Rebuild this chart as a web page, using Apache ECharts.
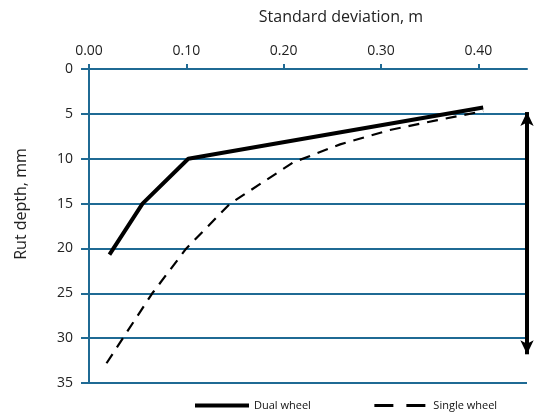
<!DOCTYPE html>
<html>
<head>
<meta charset="utf-8">
<script src="https://cdn.jsdelivr.net/npm/echarts@6/dist/echarts.min.js"></script>
<style>
  html, body { margin: 0; padding: 0; background: #fff; }
  #chart { width: 535px; height: 418px; }
</style>
</head>
<body>
<div id="chart"></div>
<script>
// data: [standard deviation (m), rut depth (mm)]
const dualWheel = [
  [0.021, 20.7],
  [0.055, 15.0],
  [0.102, 10.0],
  [0.405, 4.3]
];
const singleWheel = [
  [0.018, 32.8],
  [0.065, 25.0],
  [0.100, 20.0],
  [0.145, 15.0],
  [0.210, 10.4],
  [0.258, 8.4],
  [0.309, 6.8],
  [0.358, 5.7],
  [0.405, 4.7]
];
// vertical double arrow on the right (rut depth span)
const arrowX = 0.45;
const arrowSpan = [4.8, 31.8];

const blue = '#1f6a94';
const chart = echarts.init(document.getElementById('chart'));

chart.setOption({
  animation: false,
  textStyle: { fontFamily: 'Open Sans' },
  grid: { left: 89, right: 8, top: 69, bottom: 35 },
  legend: {
    left: 188,
    bottom: 2,
    itemWidth: 54,
    itemHeight: 10,
    itemGap: 62,
    itemStyle: { opacity: 0, borderWidth: 0 },
    textStyle: { fontSize: 11, color: '#111' },
    data: [
      { name: 'Dual wheel', lineStyle: { width: 4 } },
      { name: 'Single wheel', lineStyle: { width: 3, type: [19, 13] } }
    ]
  },
  xAxis: {
    type: 'value',
    position: 'top',
    min: 0,
    max: 0.45,
    interval: 0.1,
    name: 'Standard deviation, m',
    nameLocation: 'middle',
    nameGap: 44,
    nameTextStyle: { fontSize: 16, color: '#222', padding: [0, 0, 0, 66] },
    axisLine: { show: true, lineStyle: { color: blue, width: 2 } },
    axisTick: { show: true, length: 5, lineStyle: { color: blue, width: 2 } },
    axisLabel: {
      fontSize: 14,
      color: '#222',
      margin: 11,
      showMaxLabel: false,
      formatter: v => v.toFixed(2)
    },
    splitLine: { show: false }
  },
  yAxis: {
    type: 'value',
    inverse: true,
    min: 0,
    max: 35,
    interval: 5,
    name: 'Rut depth, mm',
    nameLocation: 'middle',
    nameGap: 60,
    nameRotate: 90,
    nameTextStyle: { fontSize: 16, color: '#222', padding: [0, 0, 0, 44] },
    axisLine: { show: true, lineStyle: { color: blue, width: 2 } },
    axisTick: { show: true, length: 8, lineStyle: { color: blue, width: 2 } },
    axisLabel: { fontSize: 14, color: '#222', margin: 16 },
    splitLine: { show: true, lineStyle: { color: blue, width: 2 } }
  },
  series: [
    {
      name: 'Dual wheel',
      type: 'line',
      data: dualWheel,
      symbol: 'none',
      color: '#000',
      lineStyle: { color: '#000', width: 4 },
      markLine: {
        silent: true,
        symbol: ['arrow', 'arrow'],
        symbolSize: [10, 14],
        label: { show: false },
        lineStyle: { color: '#000', width: 4, type: 'solid' },
        data: [[
          { coord: [arrowX, arrowSpan[0]] },
          { coord: [arrowX, arrowSpan[1]] }
        ]]
      }
    },
    {
      name: 'Single wheel',
      type: 'line',
      data: singleWheel,
      symbol: 'none',
      color: '#000',
      lineStyle: { color: '#000', width: 2.2, type: [11, 8] }
    }
  ]
});
</script>
</body>
</html>
